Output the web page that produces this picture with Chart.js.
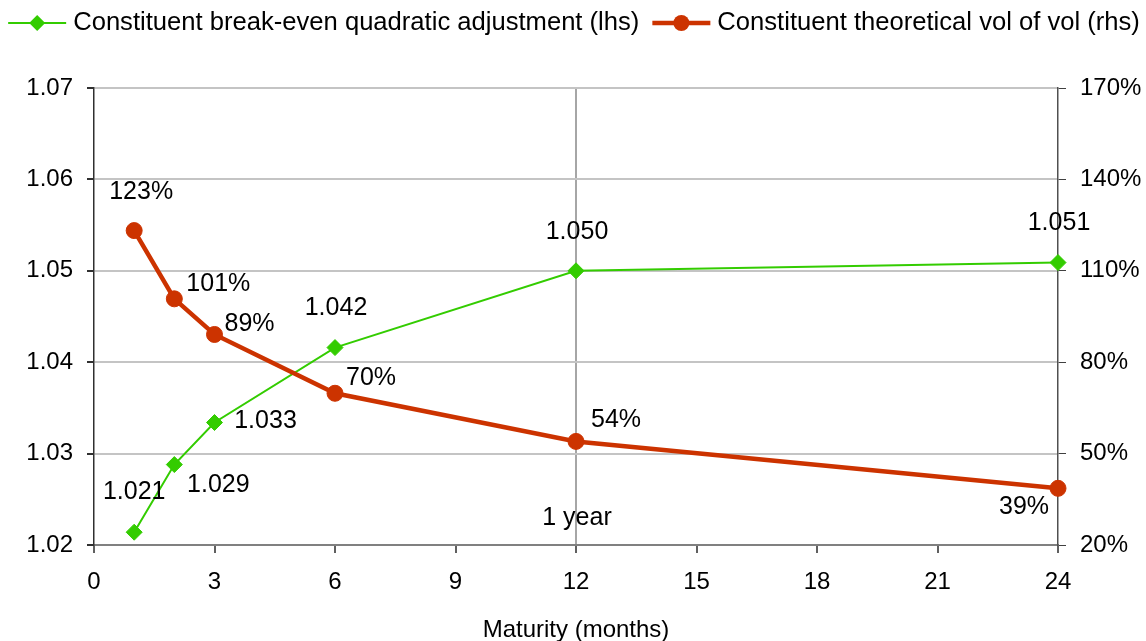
<!DOCTYPE html>
<html>
<head>
<meta charset="utf-8">
<script src="https://cdn.jsdelivr.net/npm/chart.js@4.4.1/dist/chart.umd.min.js"></script>
<style>
  html, body { margin: 0; padding: 0; background: #fff; }
  #wrap { width: 1146px; height: 641px; }
</style>
</head>
<body>
<div id="wrap"><canvas id="vol-chart" width="1146" height="641"></canvas></div>
<script>
const FONT = '"Liberation Sans", Arial, sans-serif';
Chart.defaults.font.family = FONT;
Chart.defaults.font.size = 24;
Chart.defaults.color = '#000';

const months = [1, 2, 3, 6, 12, 24];
const adjustment = [1.0214, 1.0288, 1.0334, 1.0416, 1.0500, 1.0509];
const volOfVol = [123.2, 100.8, 89.1, 69.8, 54.0, 38.6];
const xTicks = [0, 3, 6, 9, 12, 15, 18, 21, 24];
const leftTicks = [1.02, 1.03, 1.04, 1.05, 1.06, 1.07];
const rightTicks = [20, 50, 80, 110, 140, 170];
const yearMark = 12;
const yearLabel = '1 year';

const GREEN = '#33cc00';
const RED = '#cc3300';

// where each value label sits relative to its point (px)
const adjLabelOffsets = [[0, -40], [44, 21], [51, -1], [1, -39], [1, -39], [1, -39]];
const volLabelOffsets = [[7, -38], [44, -15], [35, -10], [36, -15], [40, -21], [-34, 19]];

const pointLabels = {
  id: 'pointLabels',
  afterDatasetsDraw(chart) {
    const ctx = chart.ctx;
    ctx.save();
    ctx.font = '25px ' + FONT;
    ctx.fillStyle = '#000';
    ctx.textAlign = 'center';
    ctx.textBaseline = 'middle';
    const sets = [
      {offsets: adjLabelOffsets, fmt: v => v.toFixed(3)},
      {offsets: volLabelOffsets, fmt: v => Math.round(v) + '%'},
    ];
    chart.data.datasets.forEach((ds, i) => {
      chart.getDatasetMeta(i).data.forEach((pt, j) => {
        const [dx, dy] = sets[i].offsets[j];
        ctx.fillText(sets[i].fmt(ds.data[j].y), pt.x + dx, pt.y + dy);
      });
    });
    // marker for the one-year line
    const xs = chart.scales.x;
    ctx.fillText(yearLabel, xs.getPixelForValue(yearMark) + 1, chart.chartArea.bottom - 27);
    ctx.restore();
  },
};

// legend with line + marker, like the original
const lineLegend = {
  id: 'lineLegend',
  afterDraw(chart) {
    const ctx = chart.ctx;
    const y = 23;
    ctx.save();
    ctx.font = '25.6px ' + FONT;
    ctx.textBaseline = 'middle';
    ctx.textAlign = 'left';
    const items = chart.data.datasets.map(ds => ({ds, w: 58 + 7 + ctx.measureText(ds.label).width}));
    const gap = 13;
    const total = items.reduce((a, it) => a + it.w, 0) + gap;
    let x = (chart.width - total) / 2 + 1;
    items.forEach(it => {
      const ds = it.ds;
      ctx.strokeStyle = ds.borderColor;
      ctx.lineWidth = ds.borderWidth;
      ctx.beginPath();
      ctx.moveTo(x, y);
      ctx.lineTo(x + 58, y);
      ctx.stroke();
      ctx.fillStyle = ds.pointBackgroundColor;
      const r = ds.pointRadius;
      const cx = x + 29;
      ctx.beginPath();
      if (ds.pointStyle === 'rectRot') {
        ctx.moveTo(cx, y - r);
        ctx.lineTo(cx + r, y);
        ctx.lineTo(cx, y + r);
        ctx.lineTo(cx - r, y);
        ctx.closePath();
      } else {
        ctx.arc(cx, y, r, 0, Math.PI * 2);
      }
      ctx.fill();
      ctx.fillStyle = '#000';
      ctx.fillText(ds.label, x + 65, y);
      x += it.w + gap;
    });
    ctx.restore();
  },
};

const ctxVol = document.getElementById('vol-chart');
const config = {
  type: 'line',
  data: {
    datasets: [
      {
        label: 'Constituent break-even quadratic adjustment (lhs)',
        data: months.map((m, i) => ({x: m, y: adjustment[i]})),
        yAxisID: 'y',
        borderColor: GREEN,
        backgroundColor: GREEN,
        pointBackgroundColor: GREEN,
        pointBorderColor: GREEN,
        borderWidth: 2,
        pointStyle: 'rectRot',
        pointRadius: 8,
        pointBorderWidth: 1,
        tension: 0,
        clip: false,
        order: 1,
      },
      {
        label: 'Constituent theoretical vol of vol (rhs)',
        data: months.map((m, i) => ({x: m, y: volOfVol[i]})),
        yAxisID: 'y1',
        borderColor: RED,
        backgroundColor: RED,
        pointBackgroundColor: RED,
        pointBorderColor: RED,
        borderWidth: 4.5,
        pointStyle: 'circle',
        pointRadius: 8,
        pointBorderWidth: 1,
        tension: 0,
        clip: false,
        order: 0,
      },
    ],
  },
  options: {
    responsive: false,
    animation: false,
    layout: {padding: {top: 88, left: 0, right: 0, bottom: 0}},
    plugins: {
      legend: {display: false},
      tooltip: {enabled: false},
    },
    scales: {
      x: {
        type: 'linear',
        min: xTicks[0],
        max: xTicks[xTicks.length - 1],
        afterBuildTicks: axis => { axis.ticks = xTicks.map(v => ({value: v})); },
        afterFit: axis => { axis.height = 96; },
        grid: {
          color: c => (c.tick && c.tick.value === yearMark ? '#a6a6a6' : 'rgba(0,0,0,0)'),
          lineWidth: 2,
          tickColor: '#606060',
          tickLength: 8,
        },
        border: {color: '#808080', width: 2},
        ticks: {padding: 15, maxRotation: 0},
        title: {
          display: true,
          text: 'Maturity (months)',
          font: {size: 24, lineHeight: 1},
          padding: {top: 0, bottom: -1},
        },
      },
      y: {
        position: 'left',
        min: leftTicks[0],
        max: leftTicks[leftTicks.length - 1],
        afterBuildTicks: axis => { axis.ticks = leftTicks.map(v => ({value: v})); },
        afterFit: axis => { axis.width = 94; },
        grid: {color: '#c4c4c4', lineWidth: 2, tickColor: '#303030', tickLength: 7},
        border: {color: '#303030', width: 1.5},
        ticks: {padding: 14, callback: v => v.toFixed(2)},
      },
      y1: {
        position: 'right',
        min: rightTicks[0],
        max: rightTicks[rightTicks.length - 1],
        afterBuildTicks: axis => { axis.ticks = rightTicks.map(v => ({value: v})); },
        afterFit: axis => { axis.width = 88; },
        grid: {drawOnChartArea: false, tickColor: '#404040', tickLength: 8},
        border: {color: '#505050', width: 1.5},
        ticks: {padding: 14, callback: v => v + '%'},
      },
    },
  },
  plugins: [pointLabels, lineLegend],
};
const volChart = new Chart(ctxVol, config);
</script>
</body>
</html>
